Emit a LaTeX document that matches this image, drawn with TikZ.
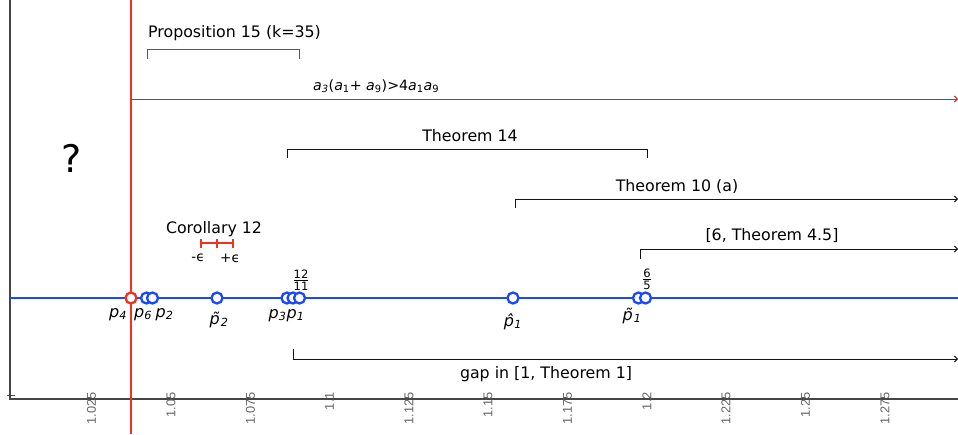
\documentclass[tikz,border=0pt]{standalone}
\usepackage{fontspec}
\setmainfont{DejaVu Sans}
\newfontfamily\tickfont{Liberation Sans}
\usetikzlibrary{arrows.meta}
\definecolor{pblue}{RGB}{26,72,250}
\definecolor{pred}{RGB}{240,50,30}
\definecolor{tickgray}{RGB}{100,100,100}
\definecolor{axgray}{RGB}{70,70,70}
\definecolor{brkgray}{RGB}{20,20,20}
\newcommand\psub[2]{\textit{#1}\textsubscript{\textit{#2}}}
\begin{document}
\begin{tikzpicture}[x=1pt,y=-1pt,
  lbl/.style={font=\fontsize{15.8}{18}\selectfont, inner sep=0, anchor=base},
  brk/.style={draw=brkgray, line width=1pt},
  rbrk/.style={draw=pred!85!black, line width=1pt},
  arr/.style={-{Straight Barb[length=3pt,width=6pt]}},
  ptc/.style={circle, draw=pblue, fill=white, line width=2.3pt, minimum size=11pt, inner sep=0},
  plabel/.style={font=\fontsize{16}{18}\selectfont, inner sep=0, anchor=base},
  ticklbl/.style={font=\tickfont\fontsize{12.8}{14}\selectfont, text=tickgray, rotate=90, anchor=east, inner sep=0},
  fracl/.style={font=\fontsize{11.5}{12}\selectfont, align=center, inner sep=0, anchor=south}]
\useasboundingbox (0,0) rectangle (958,434);

% axes
\coordinate (axtop) at (10,0);
\coordinate (axorg) at (10,399);
\coordinate (axend) at (958,399);
\draw[axgray, line width=1.2pt] (axtop) -- (axorg) -- (axend);
\coordinate (tk1) at (7,395);
\coordinate (tk2) at (15,395);
\draw[axgray, line width=0.9pt] (tk1) -- (tk2);

% tick labels
\foreach \v/\xx [count=\i] in {1.025/91.5,1.05/171,1.075/250.5,1.1/329.5,1.125/409,1.15/488,1.175/567.5,1.2/647,1.225/726,1.25/805.5,1.275/885}
  \node[ticklbl] (tl\i) at (\xx,392) {\v};

% blue line
\coordinate (bl) at (10,298);
\coordinate (br) at (958,298);
\draw[pblue, line width=2.8pt] (bl) -- (br);

% red vertical line
\coordinate (rt) at (131,0);
\coordinate (rb) at (131,434);
\draw[pred, line width=2.3pt] (rt) -- (rb);

% question mark
\node[font=\fontsize{38}{40}\selectfont, inner sep=0] (q) at (72,158) {?};

% Proposition 15
\node[lbl, anchor=base west] (prop) at (148,37) {Proposition 15 (k=35)};
\coordinate (pa) at (147,59); \coordinate (pb) at (147,49);
\coordinate (pc) at (299,49); \coordinate (pd) at (299,59);
\draw[rbrk] (pa) -- (pb) -- (pc) -- (pd);

% a3(a1+a9)>4a1a9
\node[lbl, anchor=base west, font=\fontsize{14.2}{16}\selectfont] (acond) at (313,90)
  {\psub{a}{3}(\textit{a}\textsubscript{1}+ \textit{a}\textsubscript{9})>4\textit{a}\textsubscript{1}\textit{a}\textsubscript{9}};
\coordinate (aa) at (131,99); \coordinate (ab) at (958,99);
\draw[rbrk, arr] (aa) -- (ab);

% Theorem 14
\node[lbl] (t14) at (470,141) {Theorem 14};
\coordinate (ta) at (287,158); \coordinate (tb) at (287,149);
\coordinate (tc) at (647,149); \coordinate (td) at (647,158);
\draw[brk] (ta) -- (tb) -- (tc) -- (td);

% Theorem 10 (a)
\node[lbl] (t10) at (677,191) {Theorem 10 (a)};
\coordinate (ua) at (515,208); \coordinate (ub) at (515,199); \coordinate (uc) at (958,199);
\draw[brk, arr] (ua) -- (ub) -- (uc);

% [6, Theorem 4.5]
\node[lbl] (t45) at (772,240) {[6, Theorem 4.5]};
\coordinate (va) at (640,259); \coordinate (vb) at (640,249); \coordinate (vc) at (958,249);
\draw[brk, arr] (va) -- (vb) -- (vc);

% gap in [1, Theorem 1]
\node[lbl] (gap) at (546,378) {gap in [1, Theorem 1]};
\coordinate (wa) at (293,349); \coordinate (wb) at (293,359); \coordinate (wc) at (958,359);
\draw[brk, arr] (wa) -- (wb) -- (wc);

% Corollary 12
\node[lbl] (cor) at (214,233) {Corollary 12};
\coordinate (ca) at (201,243); \coordinate (cm) at (217,243); \coordinate (cb) at (233,243);
\draw[pred, line width=1.1pt] (ca) -- (cb);
\foreach \c in {ca,cm,cb}
  \draw[pred, line width=1.1pt] ([yshift=-4.5pt]\c) -- ([yshift=4.5pt]\c);
\node[font=\fontsize{13.5}{15}\selectfont, inner sep=0] (me) at (198,258) {-ϵ};
\node[font=\fontsize{13.5}{15}\selectfont, inner sep=0] (pe) at (230,258) {+ϵ};

% points
\node[ptc, draw=pred] (p4) at (131,298) {};
\node[ptc] (p6) at (146.5,298) {};
\node[ptc] (p2) at (152.5,298) {};
\node[ptc] (pt2) at (217,298) {};
\node[ptc] (p3) at (287,298) {};
\node[ptc] (p1) at (293,298) {};
\node[ptc] (f1211) at (299.5,298) {};
\node[ptc] (ph1) at (513,298) {};
\node[ptc] (pt1) at (638.5,298) {};
\node[ptc] (f65) at (645.5,298) {};

% point labels
\node[plabel] (lp4) at (118,317) {\psub{p}{4}};
\node[plabel] (lp6) at (143,317) {\psub{p}{6}};
\node[plabel] (lp2) at (164.5,317) {\psub{p}{2}};
\node[plabel] (lpt2) at (219,324) {\textit{\~{p}}\textsubscript{\textit{2}}};
\node[plabel] (lp3) at (277.5,318) {\psub{p}{3}};
\node[plabel] (lp1) at (295.5,318) {\psub{p}{1}};
\node[plabel] (lph1) at (513,326) {\textit{\^{p}}\textsubscript{\textit{1}}};
\node[plabel] (lpt1) at (632,320) {\textit{\~{p}}\textsubscript{\textit{1}}};

% fractions
\node[fracl] (fr1) at (301,291) {\underline{12}\\11};
\node[fracl] (fr2) at (647,290) {\underline{6}\\5};
\end{tikzpicture}
\end{document}
